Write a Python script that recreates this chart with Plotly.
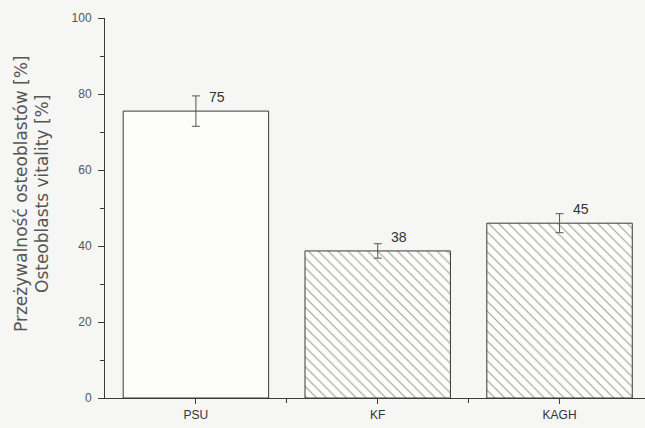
import plotly.graph_objects as go

categories = ["PSU", "KF", "KAGH"]
values = [75.5, 38.7, 46.0]
errors = [4.0, 1.9, 2.5]
labels = ["75", "38", "45"]
patterns = ["", "\\", "\\"]
title_lines = ["Przeżywalność osteoblastów [%]", "Osteoblasts vitality [%]"]

fig = go.Figure()
fig.add_trace(go.Bar(
    x=categories, y=values, width=0.8,
    marker=dict(color="#fdfdfb", line=dict(color="#3a3a3a", width=1),
                pattern=dict(shape=patterns, fgcolor="#444444", bgcolor="#fdfdfb",
                             size=7, solidity=0.17)),
    error_y=dict(type="data", array=errors, visible=True, color="#555555",
                 thickness=1, width=4),
    showlegend=False,
))
for c, v, t in zip(categories, values, labels):
    fig.add_annotation(x=c, y=v, text=t, showarrow=False, xshift=21, yshift=14,
                       yanchor="middle", font=dict(size=14, color="#333333"))

# two-line y-axis title
for i, line in enumerate(title_lines):
    fig.add_annotation(x=0, y=0.5, xref="paper", yref="paper", text=line,
                       textangle=-90, showarrow=False, xanchor="center", yanchor="middle",
                       xshift=-84 + 21 * i, yshift=14,
                       font=dict(size=17, color="#555555", family="DejaVu Sans, sans-serif"))

fig.update_layout(
    width=645, height=428,
    margin=dict(l=105, r=0, t=18, b=30, autoexpand=False),
    paper_bgcolor="#f6f6f4", plot_bgcolor="#f6f6f4",
    font=dict(family="Liberation Sans, Arial, sans-serif", color="#555555"),
)
fig.update_xaxes(
    type="category", range=[-0.5, 2.47], showgrid=False, showline=True,
    linecolor="#3a3a3a", linewidth=1.2, ticks="outside", ticklen=5, tickcolor="#3a3a3a",
    tickfont=dict(size=12, color="#333333"),
    minor=dict(tickvals=[0.5, 1.5], ticks="outside", ticklen=4, tickcolor="#3a3a3a"),
)
fig.update_yaxes(
    range=[0, 100], tickvals=[0, 20, 40, 60, 80, 100], showgrid=False, zeroline=False,
    showline=True, linecolor="#3a3a3a", linewidth=1, ticks="outside", ticklen=6,
    tickcolor="#3a3a3a", tickfont=dict(size=12, color="#555555"), ticklabelstandoff=4,
    minor=dict(tickvals=[10, 30, 50, 70, 90], ticks="outside", ticklen=4, tickcolor="#3a3a3a"),
)
fig.write_html("out.html", config={"displayModeBar": False},
               post_script="document.body.style.margin='0';document.body.style.overflow='hidden';")
